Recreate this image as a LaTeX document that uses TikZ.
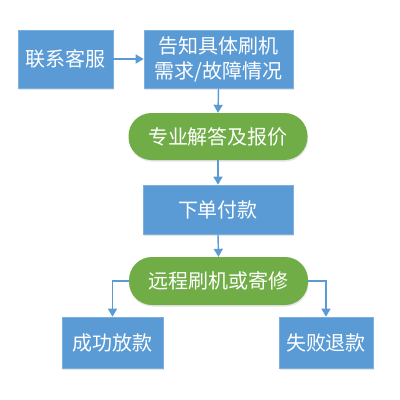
\documentclass[tikz,border=0pt]{standalone}
\usepackage{fontspec}
\newfontfamily\cjk{Noto Sans CJK SC}
\usetikzlibrary{arrows.meta,shadows}
\definecolor{bblue}{HTML}{5B9BD5}
\definecolor{bgreen}{HTML}{70AD47}
\tikzset{
  base/.style={text=white, inner sep=0pt, align=center,
    font=\cjk\fontsize{20}{25}\selectfont,
    drop shadow={opacity=0.2, shadow xshift=0.6pt, shadow yshift=-1.6pt}},
  bbox/.style={base, fill=bblue, draw=bblue!80!white, line width=0.6pt},
  pill/.style={base, fill=bgreen, rounded corners=23pt},
  conn/.style={draw=bblue, line width=1.4pt, -{Triangle[width=9pt,length=8pt]}},
}
\begin{document}
\begin{tikzpicture}[x=1pt,y=-1pt]
\useasboundingbox[fill=white] (0,0) rectangle (400,400);
\node[bbox, minimum width=95pt, minimum height=58pt] (kf) at (65.5,59) {联系客服};
\node[bbox, minimum width=149pt, minimum height=58pt] (gz) at (218.5,59) {告知具体刷机\\需求/故障情况};
\node[pill, minimum width=179pt, minimum height=47pt] (jd) at (218,136.5) {专业解答及报价};
\node[bbox, minimum width=150pt, minimum height=49pt] (xd) at (218,209.5) {下单付款};
\node[pill, minimum width=179pt, minimum height=48pt] (yc) at (218.5,281) {远程刷机或寄修};
\node[bbox, minimum width=101pt, minimum height=51pt] (cg) at (112.5,342.5) {成功放款};
\node[bbox, minimum width=94pt, minimum height=51pt] (sb) at (326,342.5) {失败退款};
\draw[conn] (kf.east) -- (gz.west);
\draw[conn] (gz.south) -- (jd.north);
\draw[conn] (jd.south) -- (xd.north);
\draw[conn] (xd.south) -- (yc.north);
\draw[conn] (yc.west) -| (cg.north);
\draw[conn] (yc.east) -| (sb.north);
\end{tikzpicture}
\end{document}
